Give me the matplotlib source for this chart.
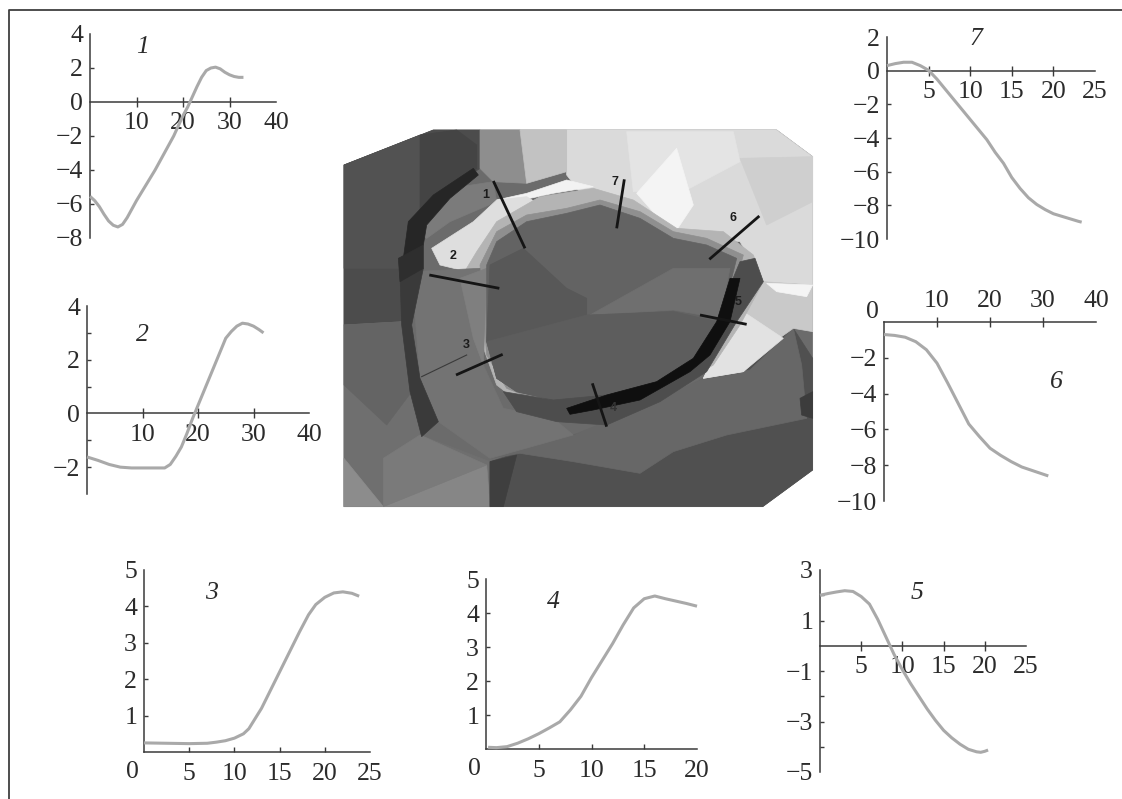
"""Seven wall-motion curves around a gray mesh picture of the ventricle."""

import matplotlib
matplotlib.use("Agg")
import matplotlib.pyplot as plt
from matplotlib.patches import Polygon

plt.rcParams["font.family"] = ["Liberation Serif", "DejaVu Serif"]
W, H = 1122, 799
INK = "#2b2b2b"
CURVE = "#a9a9a9"

# curves
x1 = [0, 1, 2, 3, 4, 5, 6, 7, 8, 9, 10, 12, 14, 16, 18, 20, 21, 22, 23, 24, 25, 26, 27, 28, 29, 30, 31, 32, 33]
y1 = [-5.55, -5.8, -6.15, -6.6, -7.0, -7.25, -7.35, -7.2, -6.8, -6.3, -5.8, -4.9, -4.0, -3.0, -2.0, -0.8, -0.3, 0.3, 0.9, 1.45, 1.85, 2.0, 2.05, 1.95, 1.75, 1.6, 1.5, 1.45, 1.45]
x2 = [0, 2, 4, 6, 8, 10, 12, 14, 15, 16, 17, 18, 19, 20, 21, 22, 23, 24, 25, 26, 27, 28, 29, 30, 31, 31.8]
y2 = [-1.62, -1.75, -1.9, -2.0, -2.03, -2.03, -2.03, -2.03, -1.9, -1.6, -1.25, -0.75, -0.2, 0.3, 0.8, 1.3, 1.8, 2.3, 2.8, 3.05, 3.25, 3.36, 3.33, 3.25, 3.12, 3.0]
x3 = [0, 5, 7, 8, 9, 10, 11, 11.6, 13, 14.8, 17.2, 18.2, 19, 20, 21, 22, 23, 23.8]
y3 = [0.25, 0.23, 0.24, 0.27, 0.31, 0.38, 0.5, 0.64, 1.2, 2.1, 3.3, 3.77, 4.05, 4.25, 4.37, 4.4, 4.36, 4.28]
x4 = [0.2, 1, 2, 3, 4, 5, 6, 7, 8, 9, 10, 11, 12, 13, 13.5, 14, 15, 16, 17, 18, 19, 20]
y4 = [0.05, 0.04, 0.07, 0.17, 0.3, 0.45, 0.62, 0.8, 1.15, 1.55, 2.1, 2.6, 3.1, 3.65, 3.9, 4.15, 4.42, 4.5, 4.42, 4.35, 4.28, 4.2]
x5 = [0, 1, 2, 3, 4, 5, 6, 7, 8, 8.5, 9, 10, 11, 12, 13, 14, 15, 16, 17, 18, 19, 19.5, 20, 20.4]
y5 = [2.0, 2.07, 2.13, 2.18, 2.15, 1.95, 1.65, 1.05, 0.35, 0.0, -0.35, -0.95, -1.5, -2.0, -2.5, -2.95, -3.35, -3.65, -3.9, -4.1, -4.2, -4.22, -4.18, -4.13]
x6 = [0, 2, 4, 6, 8, 10, 12, 14, 16, 18, 20, 22, 24, 26, 28, 30, 31]
y6 = [-0.7, -0.75, -0.85, -1.1, -1.55, -2.3, -3.4, -4.55, -5.7, -6.4, -7.05, -7.45, -7.8, -8.1, -8.3, -8.5, -8.6]
x7 = [0, 1, 2, 3, 4, 5, 6, 7, 8, 9, 10, 11, 12, 13, 14, 15, 16, 17, 18, 19, 20, 21, 22, 23, 23.4]
y7 = [0.3, 0.42, 0.5, 0.5, 0.3, 0.02, -0.5, -1.1, -1.7, -2.3, -2.9, -3.5, -4.1, -4.85, -5.5, -6.35, -7.0, -7.55, -7.95, -8.25, -8.5, -8.65, -8.8, -8.95, -9.0]

# the mesh picture, in coordinates of a 1440x1170 image
mesh_shapes = [
    ("#6b6b6b", [(12, 120), (280, 15), (1310, 15), (1418, 95), (1418, 1035), (1268, 1145), (12, 1145)]),
    ("#4c4c4c", [(12, 120), (280, 15), (420, 15), (420, 130), (330, 190), (210, 290), (180, 430), (190, 590), (12, 600)]),
    ("#525252", [(12, 120), (240, 30), (240, 260), (180, 430), (12, 430)]),
    ("#444444", [(240, 30), (350, 15), (410, 60), (410, 130), (240, 260)]),
    ("#6f6f6f", [(12, 600), (190, 590), (240, 930), (450, 1010), (450, 1145), (12, 1145)]),
    ("#646464", [(12, 600), (190, 590), (215, 800), (140, 900), (12, 780)]),
    ("#8c8c8c", [(12, 1000), (130, 1145), (12, 1145)]),
    ("#868686", [(130, 1145), (440, 1020), (450, 1145)]),
    ("#7a7a7a", [(240, 930), (440, 1020), (130, 1145), (130, 1000)]),
    ("#505050", [(450, 1145), (1268, 1145), (1418, 1035), (1418, 700), (1360, 610), (1290, 660), (1210, 740), (1090, 760), (900, 880), (700, 930), (450, 1010)]),
    ("#676767", [(450, 1000), (700, 930), (900, 850), (1090, 760), (1230, 735), (1360, 610), (1385, 720), (1400, 880), (1160, 930), (1000, 980), (900, 1045), (700, 1010), (540, 985)]),
    ("#3f3f3f", [(450, 1010), (530, 990), (490, 1145), (450, 1145)]),
    ("#3c3c3c", [(1380, 820), (1418, 800), (1418, 880), (1385, 870)]),
    ("#dadada", [(680, 15), (1310, 15), (1418, 95), (1418, 480), (1270, 470), (1200, 350), (1000, 330), (750, 240), (680, 150)]),
    ("#e4e4e4", [(860, 20), (1180, 20), (1200, 110), (1030, 200), (880, 200)]),
    ("#f4f4f4", [(1010, 70), (1060, 240), (1000, 330), (890, 205)]),
    ("#cfcfcf", [(1200, 100), (1418, 95), (1418, 230), (1280, 300)]),
    ("#8e8e8e", [(420, 15), (540, 15), (560, 175), (460, 170), (420, 130)]),
    ("#c2c2c2", [(540, 15), (680, 15), (680, 140), (560, 175)]),
    ("#c9c9c9", [(1270, 470), (1418, 480), (1418, 620), (1360, 610), (1290, 660), (1210, 740), (1090, 760), (1150, 640), (1200, 480)]),
    ("#e2e2e2", [(1210, 560), (1330, 640), (1210, 740), (1090, 760), (1150, 640)]),
    ("#f4f4f4", [(1280, 475), (1418, 480), (1400, 515), (1310, 500)]),
    ("#7b7b7b", [(210, 290), (330, 190), (460, 170), (470, 230), (330, 290), (260, 340)]),
    ("#f2f2f2", [(470, 225), (560, 205), (680, 165), (760, 185), (640, 205), (500, 235)]),
    ("#dedede", [(275, 370), (400, 290), (470, 225), (560, 215), (600, 240), (470, 310), (410, 400), (375, 438), (300, 420)]),
    ("#b4b4b4", [(375, 438), (410, 380), (470, 290), (600, 215), (760, 190), (880, 225), (1010, 310), (1150, 320), (1240, 390), (1270, 470), (1200, 600), (1120, 720), (1000, 790), (800, 830), (600, 880), (470, 780), (420, 640), (420, 480)]),
    ("#8f8f8f", [(420, 420), (470, 320), (560, 270), (680, 250), (780, 225), (900, 260), (1000, 320), (1100, 340), (1210, 390), (1180, 500), (1140, 600), (1070, 710), (950, 790), (640, 845), (500, 790), (440, 690)]),
    ("#737373", [(215, 440), (420, 430), (430, 720), (490, 850), (640, 880), (700, 930), (450, 1000), (295, 890), (240, 760)]),
    ("#7f7f7f", [(360, 460), (440, 430), (430, 720), (400, 640)]),
    ("#636363", [(440, 420), (470, 350), (560, 290), (680, 265), (780, 240), (900, 280), (1000, 340), (1100, 360), (1190, 400), (1170, 480), (1130, 590), (1060, 700), (950, 770), (800, 810), (640, 825), (530, 800), (470, 760), (440, 650)]),
    ("#6f6f6f", [(750, 570), (1000, 430), (1170, 430), (1140, 580), (1000, 555)]),
    ("#585858", [(450, 420), (550, 370), (680, 490), (740, 520), (740, 570), (440, 650)]),
    ("#5d5d5d", [(440, 650), (740, 570), (1000, 560), (1130, 590), (1060, 700), (950, 770), (800, 810), (640, 825), (530, 800), (470, 760)]),
    ("#4d4d4d", [(490, 800), (640, 825), (800, 810), (950, 770), (1060, 700), (1130, 590), (1175, 470), (1200, 410), (1245, 400), (1270, 470), (1190, 590), (1100, 740), (960, 830), (800, 900), (650, 890), (530, 860)]),
    ("#0f0f0f", [(680, 850), (800, 810), (950, 770), (1060, 700), (1130, 590), (1170, 460), (1200, 460), (1170, 590), (1110, 690), (1050, 740), (900, 825), (760, 855), (690, 868)]),
    ("#262626", [(205, 290), (280, 210), (400, 130), (415, 150), (330, 220), (260, 300), (250, 360), (190, 400)]),
    ("#3a3a3a", [(180, 450), (250, 430), (215, 600), (240, 760), (295, 890), (245, 935), (210, 800), (185, 600)]),
    ("#2e2e2e", [(175, 400), (250, 360), (250, 430), (180, 470)]),
]
mesh_lines = [
    ((460, 168), (555, 370)), ((268, 450), (478, 490)), ((348, 750), (488, 688)),
    ((757, 775), (800, 905)), ((1080, 570), (1220, 598)), ((1108, 403), (1258, 273)),
    ((853, 163), (830, 310)),
]
mesh_labels = [("1", 436, 210), ("2", 340, 393), ("3", 380, 660), ("4", 820, 850),
               ("5", 1195, 530), ("6", 1180, 278), ("7", 825, 172)]


def make_axes(fig, left, right, top, bottom):
    return fig.add_axes([left / W, 1 - bottom / H, (right - left) / W, (bottom - top) / H])


def panel(fig, box, xs, ys, xlim, ylim, xticks, yticks, ylabels=None, above=False, cross=True):
    ax = make_axes(fig, *box)
    ax.patch.set_alpha(0)
    ax.set_xlim(*xlim)
    ax.set_ylim(*ylim)
    for side in ("right", "top" if not above else "bottom"):
        ax.spines[side].set_visible(False)
    if not above:
        ax.spines["bottom"].set_position("zero")
    for s in ax.spines.values():
        s.set_linewidth(1.1)
        s.set_color("#3a3a3a")
    ax.plot(xs, ys, color=CURVE, lw=2.2, clip_on=False, solid_capstyle="butt",
            solid_joinstyle="round", zorder=3)

    ax.set_xticks(xticks)
    ax.set_yticks(yticks)
    ax.set_yticklabels([str(v).replace("-", "\u2212") if ylabels is None or v in ylabels else "" for v in yticks])
    ax.tick_params(axis="x", direction="inout" if cross else "in", length=7 if cross else 3.5, width=1,
                   color="#3a3a3a", labelsize=18.5, labelcolor=INK, pad=4 if cross else 8,
                   top=above, bottom=not above, labeltop=above, labelbottom=not above)
    ax.tick_params(axis="y", direction="in", length=3, width=1, color="#3a3a3a",
                   labelsize=18.5, labelcolor=INK, pad=5)
    # the ends of the axes carry a number but no tick mark
    ax.xaxis.get_major_ticks()[-1].tick1line.set_visible(False)
    ax.xaxis.get_major_ticks()[-1].tick2line.set_visible(False)
    for v, t in zip(yticks, ax.yaxis.get_major_ticks()):
        if v == 0 or v == ylim[0] or v == ylim[1]:
            t.tick1line.set_visible(False)
    return ax


fig = plt.figure(figsize=(W / 100, H / 100), dpi=100, facecolor="white")

# frame and panel numbers share one pixel-sized layer
page = fig.add_axes([0, 0, 1, 1])
page.set_xlim(0, W)
page.set_ylim(H, 0)
page.axis("off")
page.plot([9, 9, W], [H, 10, 10], color="#3f3f3f", lw=1.3, clip_on=False)
for label, px, py in [("1", 143, 47), ("2", 142, 335), ("3", 211, 593), ("4", 553, 602),
                      ("5", 917, 593), ("6", 1056, 382), ("7", 976, 39)]:
    page.text(px, py, label, fontsize=18.5, style="italic", color=INK, ha="center", va="center")

# central mesh picture
img = make_axes(fig, 340, 820, 125, 515)
img.set_xlim(0, 1440)
img.set_ylim(1170, 0)
img.axis("off")
for color, pts in mesh_shapes:
    img.add_patch(Polygon(pts, closed=True, facecolor=color, edgecolor=color, lw=0.5))
for a, b in mesh_lines:
    img.plot([a[0], b[0]], [a[1], b[1]], color="#151515", lw=2.0, solid_capstyle="butt")
img.plot([245, 380], [755, 690], color="#3a3a3a", lw=0.8)
for label, px, py in mesh_labels:
    img.text(px, py, label, family="Liberation Sans", weight="bold", fontsize=9,
             color="#1c1c1c" if label != "4" else "#333333", ha="center", va="center")

panel(fig, (90, 276, 34, 238), x1, y1, (0, 40), (-8, 4), [10, 20, 30, 40], [-8, -6, -4, -2, 0, 2, 4])
panel(fig, (87, 309, 306, 494), x2, y2, (0, 40), (-3, 4), [10, 20, 30, 40],
      [-3, -2, -1, 0, 1, 2, 3, 4], ylabels=[-2, 0, 2, 4])
ax3 = panel(fig, (144, 370, 570, 752), x3, y3, (0, 25), (0, 5), [5, 10, 15, 20, 25], [1, 2, 3, 4, 5], cross=False)
ax4 = panel(fig, (486, 697, 579, 749), x4, y4, (0, 20), (0, 5), [5, 10, 15, 20], [1, 2, 3, 4, 5], cross=False)
panel(fig, (820, 1026, 570, 772), x5, y5, (0, 25), (-5, 3), [5, 10, 15, 20, 25],
      [-5, -4, -3, -2, -1, 0, 1, 2, 3], ylabels=[-5, -3, -1, 1, 3])
ax6 = panel(fig, (884, 1096, 322, 501), x6, y6, (0, 40), (-10, 0), [10, 20, 30, 40], [-10, -8, -6, -4, -2], above=True)
panel(fig, (887, 1095, 37, 239), x7, y7, (0, 25), (-10, 2), [5, 10, 15, 20, 25], [-10, -8, -6, -4, -2, 0, 2])

# the corner zeros sit off the axis, so they are placed by hand
for ax, dx, dy in [(ax3, -12, -20), (ax4, -12, -20)]:
    ax.annotate("0", xy=(0, 0), xytext=(dx * 0.72, dy * 0.72), textcoords="offset points",
                fontsize=18.5, color=INK, ha="center", va="center", annotation_clip=False)
ax6.annotate("0", xy=(0, 0), xytext=(-12 * 0.72, 10 * 0.72), textcoords="offset points",
             fontsize=18.5, color=INK, ha="center", va="center", annotation_clip=False)

fig.savefig("out.png", dpi=100, facecolor="white")
plt.close(fig)
